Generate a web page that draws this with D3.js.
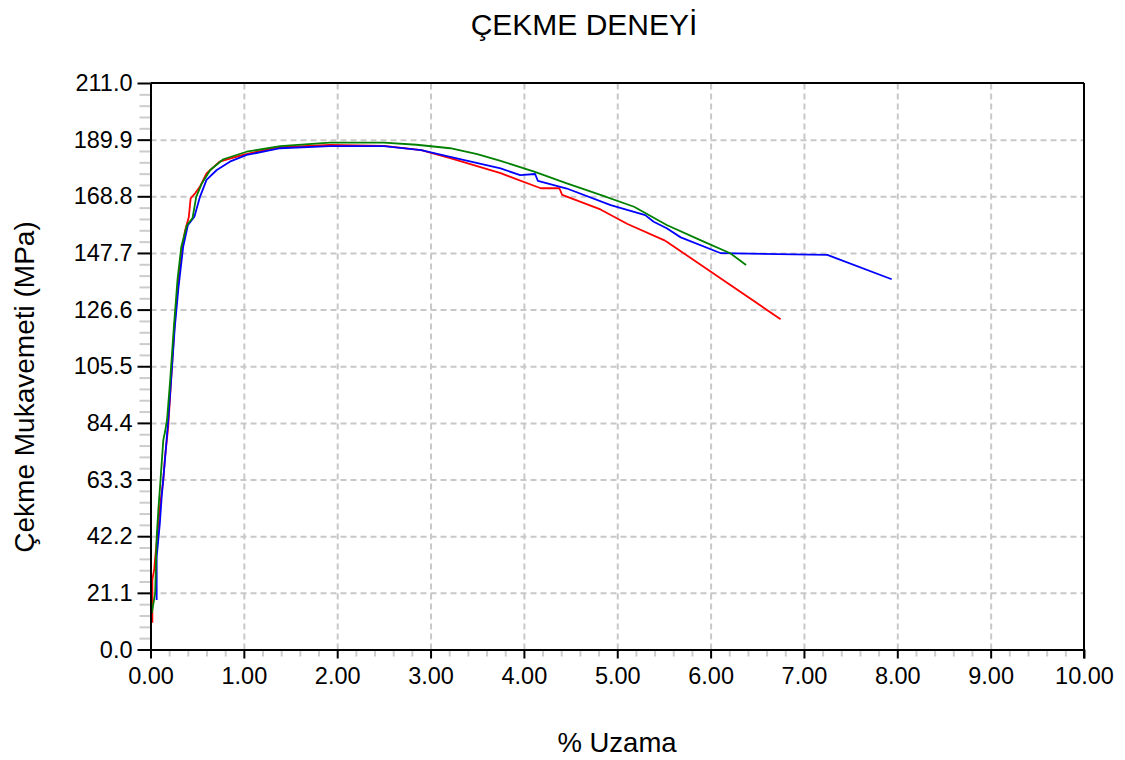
<!DOCTYPE html>
<html>
<head>
<meta charset="utf-8">
<script src="https://cdn.jsdelivr.net/npm/d3@7"></script>
<style>
  body { margin: 0; background: #fff; }
  svg text { font-family: "Liberation Sans", Arial, sans-serif; }
</style>
</head>
<body>
<div id="svganchor"></div>
<script>
let width = 1125, height = 760;
let margin = ({top: 83, right: 41, bottom: 110.5, left: 150.5});

// data: strain (%) / stress (MPa)
let redStrain = [0.02, 0.02, 0.04, 0.066, 0.10, 0.137, 0.155, 0.19, 0.22, 0.26, 0.30, 0.33, 0.37, 0.41, 0.43, 0.48, 0.53, 0.60, 0.74, 0.99, 1.35, 1.92, 2.5, 2.9, 3.21, 3.75, 4.18, 4.38, 4.41, 4.82, 5.11, 5.50, 5.53, 6.75];
let redStress = [10, 26, 30, 40, 53, 63, 71.5, 83, 100, 122, 138, 148, 156, 161, 168, 170, 172.4, 177.3, 181.7, 184.2, 187, 187.9, 187.6, 186, 183, 177.4, 171.8, 171.8, 169.3, 163.9, 158.5, 152.5, 151.9, 123];

let blueStrain = [0.066, 0.066, 0.10, 0.12, 0.155, 0.19, 0.22, 0.26, 0.30, 0.35, 0.40, 0.47, 0.53, 0.60, 0.71, 0.85, 1.03, 1.39, 1.92, 2.5, 2.9, 3.21, 3.75, 3.96, 4.12, 4.15, 4.46, 4.93, 5.30, 5.39, 5.53, 5.68, 6.11, 7.25, 7.94];
let blueStress = [18.4, 34.5, 47, 57, 70.6, 85.5, 100, 120, 135, 150, 158, 161.2, 168.6, 174.9, 178.6, 181.7, 184.2, 186.7, 187.5, 187.5, 186, 183.5, 179.2, 176.7, 177.1, 174.5, 171.7, 165.5, 161.8, 159.3, 156.9, 153.5, 147.6, 147.0, 137.9];

let greenStrain = [0.014, 0.05, 0.066, 0.084, 0.102, 0.12, 0.137, 0.155, 0.177, 0.21, 0.25, 0.29, 0.33, 0.39, 0.45, 0.49, 0.55, 0.64, 0.78, 1.03, 1.39, 1.92, 2.5, 2.85, 3.21, 3.5, 3.75, 4.11, 4.46, 4.82, 5.18, 5.53, 5.89, 6.21, 6.38];
let greenStress = [13.6, 21, 41.5, 52, 60.5, 69.5, 78, 81, 85.5, 100, 120, 138, 150, 158, 160.7, 168.6, 173.6, 178.6, 182.6, 185.4, 187.5, 188.8, 188.8, 188, 186.7, 184.5, 182, 178, 173.6, 169.3, 164.9, 158.1, 152.5, 147.6, 143.2];

let xTicks = [0, 1, 2, 3, 4, 5, 6, 7, 8, 9, 10];
let yTicks = [0, 21.1, 42.2, 63.3, 84.4, 105.5, 126.6, 147.7, 168.8, 189.9, 211.0];

let series = [
    {name: "red", color: "#ff0000", x: redStrain, y: redStress},
    {name: "blue", color: "#0000ff", x: blueStrain, y: blueStress},
    {name: "green", color: "#008000", x: greenStrain, y: greenStress}
];

let xScale = d3.scaleLinear()
    .domain([0, 10])
    .range([margin.left, width - margin.right]);

let yScale = d3.scaleLinear()
    .domain([0, 211])
    .range([height - margin.bottom, margin.top]);

let svg = d3.select("#svganchor")
    .append("svg")
    .attr("width", width)
    .attr("height", height);

// minor ticks (4 between majors)
let xMinor = [];
for (let i = 0; i < 10; i++) {
    for (let j = 1; j < 5; j++) xMinor.push(i + j * 0.2);
}
let yMinor = [];
for (let i = 0; i < 10; i++) {
    for (let j = 1; j < 5; j++) yMinor.push(yTicks[i] + j * 21.1 / 5);
}

// grid
let gridX = svg.append("g")
    .attr("class", "grid")
    .attr("transform", `translate(0,${height - margin.bottom})`)
    .call(d3.axisBottom(xScale)
        .tickValues(xTicks.slice(1, -1))
        .tickSize(-(height - margin.top - margin.bottom))
        .tickFormat(""));

let gridY = svg.append("g")
    .attr("class", "grid")
    .attr("transform", `translate(${margin.left},0)`)
    .call(d3.axisLeft(yScale)
        .tickValues(yTicks.slice(1, -1))
        .tickSize(-(width - margin.left - margin.right))
        .tickFormat(""));

svg.selectAll(".grid .domain").remove();
svg.selectAll(".grid line")
    .attr("stroke", "#c8c8c8")
    .attr("stroke-width", 2)
    .attr("stroke-dasharray", "6,4");

// minor tick marks
svg.append("g")
    .attr("class", "minor")
    .attr("transform", `translate(0,${height - margin.bottom})`)
    .call(d3.axisBottom(xScale).tickValues(xMinor).tickSize(7).tickFormat(""));

svg.append("g")
    .attr("class", "minor")
    .attr("transform", `translate(${margin.left},0)`)
    .call(d3.axisLeft(yScale).tickValues(yMinor).tickSize(11).tickFormat(""));

svg.selectAll(".minor .domain").remove();
svg.selectAll(".minor line")
    .attr("stroke", "#cccccc")
    .attr("stroke-width", 2);

// curves
let line = d3.line()
    .x(function(d) { return xScale(d[0]); })
    .y(function(d) { return yScale(d[1]); });

series.forEach(function(s) {
    let pts = s.x.map(function(v, i) { return [v, s.y[i]]; });
    svg.append("path")
        .datum(pts)
        .attr("fill", "none")
        .attr("stroke", s.color)
        .attr("stroke-width", 1.8)
        .attr("stroke-linejoin", "round")
        .attr("d", line);
});

// frame (top / right)
svg.append("line")
    .attr("x1", margin.left).attr("x2", width - margin.right)
    .attr("y1", margin.top).attr("y2", margin.top)
    .attr("stroke", "#000").attr("stroke-width", 2);
svg.append("line")
    .attr("x1", width - margin.right).attr("x2", width - margin.right)
    .attr("y1", margin.top).attr("y2", height - margin.bottom + 9)
    .attr("stroke", "#000").attr("stroke-width", 2);

// major axes
let gX = svg.append("g")
    .attr("class", "x axis")
    .attr("transform", `translate(0,${height - margin.bottom})`)
    .call(d3.axisBottom(xScale)
        .tickValues(xTicks)
        .tickSizeInner(9)
        .tickSizeOuter(0)
        .tickPadding(9)
        .tickFormat(d3.format(".2f")));

let gY = svg.append("g")
    .attr("class", "y axis")
    .attr("transform", `translate(${margin.left},0)`)
    .call(d3.axisLeft(yScale)
        .tickValues(yTicks)
        .tickSizeInner(13)
        .tickSizeOuter(0)
        .tickPadding(5)
        .tickFormat(d3.format(".1f")));

svg.selectAll(".axis .domain")
    .attr("stroke", "#000")
    .attr("stroke-width", 2);
svg.selectAll(".axis line")
    .attr("stroke", "#000")
    .attr("stroke-width", 2);
svg.selectAll(".axis text")
    .attr("font-size", 23.5)
    .attr("fill", "#000");

// titles
svg.append("text")
    .attr("text-anchor", "middle")
    .attr("x", 584)
    .attr("y", 35)
    .attr("font-size", 30)
    .text("ÇEKME DENEYİ");

svg.append("text")
    .attr("text-anchor", "middle")
    .attr("x", 617)
    .attr("y", 752)
    .attr("font-size", 27.5)
    .text("% Uzama");

svg.append("text")
    .attr("text-anchor", "middle")
    .attr("transform", "translate(34,387) rotate(-90)")
    .attr("font-size", 28)
    .text("Çekme Mukavemeti (MPa)");
</script>
</body>
</html>
